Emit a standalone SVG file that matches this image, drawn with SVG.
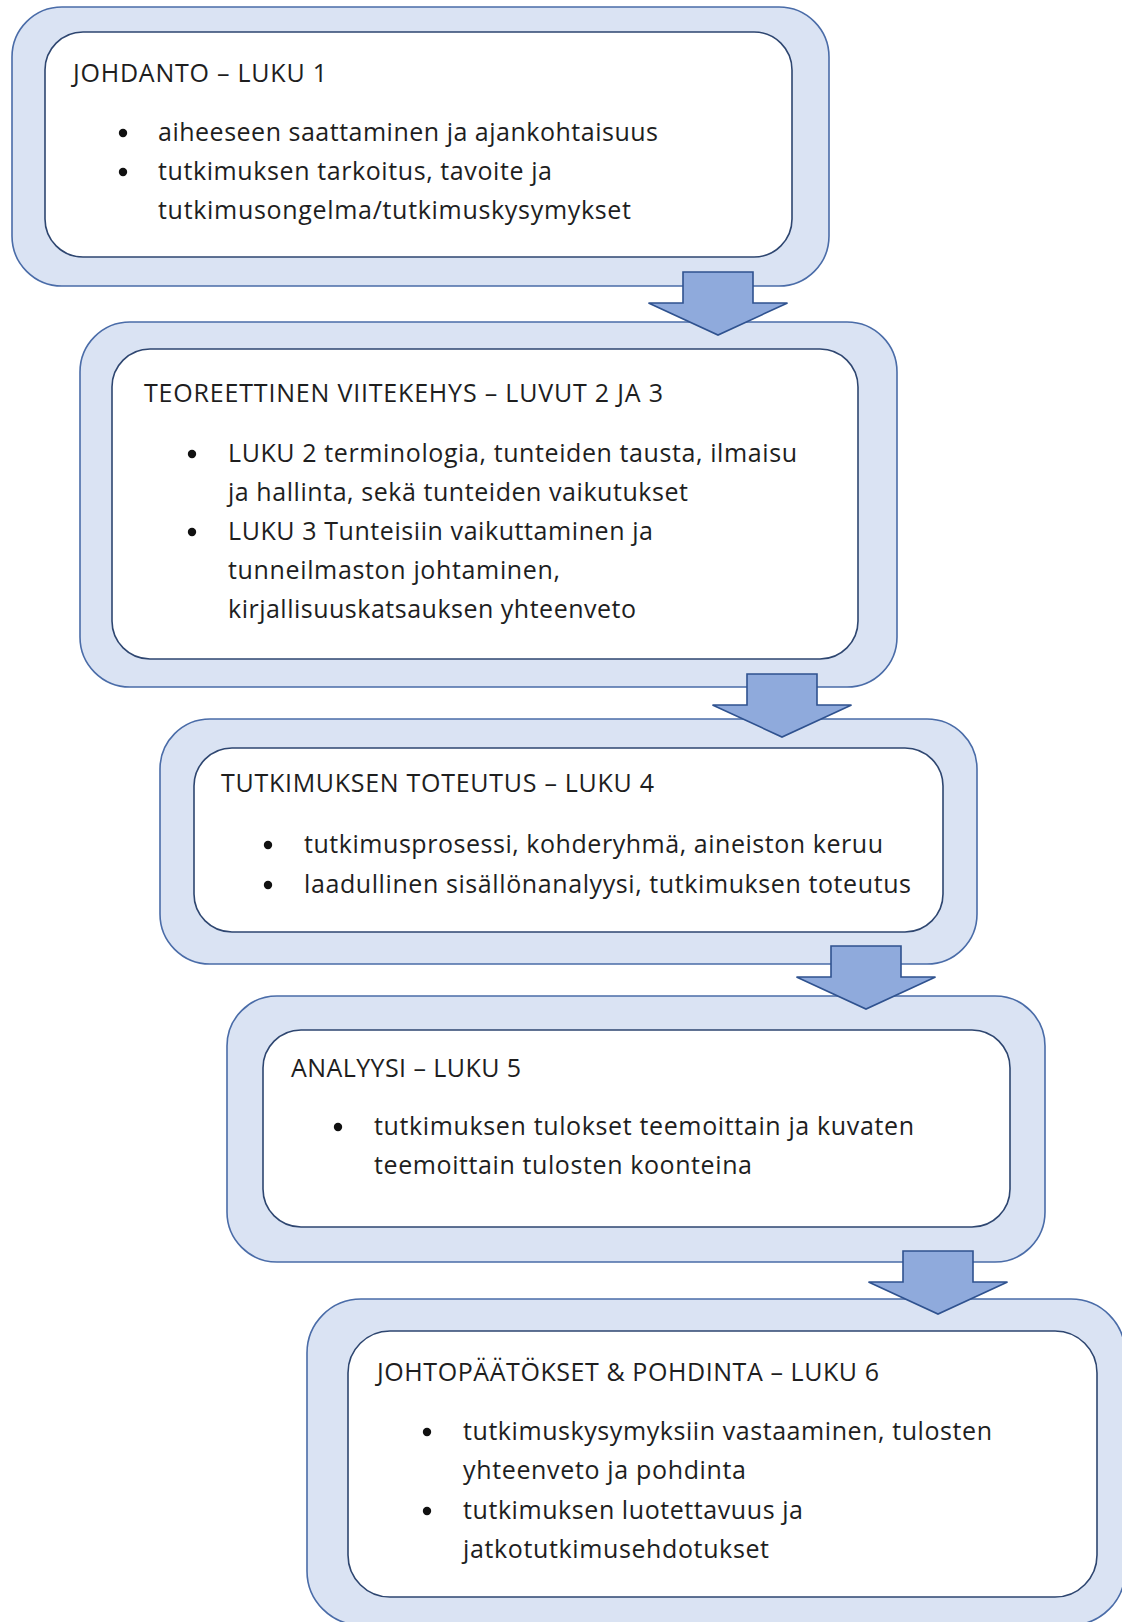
<svg xmlns="http://www.w3.org/2000/svg" width="1122" height="1622" viewBox="0 0 1122 1622">
  <style>
    .frame { fill: #DAE3F3; stroke: #4A6CA8; stroke-width: 1.6; }
    .panel { fill: #FFFFFF; stroke: #2E4670; stroke-width: 1.6; }
    .title, .item { font-family: "Open Sans", "Liberation Sans", Arial, sans-serif; font-size: 25px; fill: #1E1E1E; }
    .dot { fill: #111111; }
    .step { fill: #8FAADC; stroke: #2F528F; stroke-width: 1.6; stroke-linejoin: miter; }
  </style>
  <defs>
    <!-- block arrow pointing down, origin at the tip -->
    <polygon id="downArrow" points="-35,-63 35,-63 35,-32 69.5,-32 0,0 -69.5,-32 -35,-32"/>
  </defs>

  <rect width="1122" height="1622" fill="#FFFFFF"/>

  <!-- Chapter 1 -->
  <g id="johdanto">
    <rect class="frame" x="12" y="7" width="817" height="279" rx="50"/>
    <rect class="panel" x="45" y="32" width="747" height="225" rx="38"/>
    <text class="title" x="73" y="82" textLength="254">JOHDANTO – LUKU 1</text>
    <circle class="dot" cx="123" cy="133" r="4.2"/>
    <text class="item" x="158" y="141" textLength="500">aiheeseen saattaminen ja ajankohtaisuus</text>
    <circle class="dot" cx="123" cy="172" r="4.2"/>
    <text class="item" x="158" y="180" textLength="394">tutkimuksen tarkoitus, tavoite ja</text>
    <text class="item" x="158" y="219" textLength="473">tutkimusongelma/tutkimuskysymykset</text>
  </g>

  <!-- Chapters 2 and 3 -->
  <g id="viitekehys">
    <rect class="frame" x="80" y="322" width="817" height="365" rx="50"/>
    <rect class="panel" x="112" y="349" width="746" height="310" rx="38"/>
    <text class="title" x="144" y="402" textLength="519">TEOREETTINEN VIITEKEHYS – LUVUT 2 JA 3</text>
    <circle class="dot" cx="192" cy="454" r="4.2"/>
    <text class="item" x="228" y="462" textLength="569">LUKU 2 terminologia, tunteiden tausta, ilmaisu</text>
    <text class="item" x="228" y="501" textLength="460">ja hallinta, sekä tunteiden vaikutukset</text>
    <circle class="dot" cx="192" cy="532" r="4.2"/>
    <text class="item" x="228" y="540" textLength="425">LUKU 3 Tunteisiin vaikuttaminen ja</text>
    <text class="item" x="228" y="579" textLength="332">tunneilmaston johtaminen,</text>
    <text class="item" x="228" y="618" textLength="408">kirjallisuuskatsauksen yhteenveto</text>
  </g>

  <!-- Chapter 4 -->
  <g id="toteutus">
    <rect class="frame" x="160" y="719" width="817" height="245" rx="50"/>
    <rect class="panel" x="194" y="748" width="749" height="184" rx="38"/>
    <text class="title" x="221" y="792" textLength="433">TUTKIMUKSEN TOTEUTUS – LUKU 4</text>
    <circle class="dot" cx="268" cy="845" r="4.2"/>
    <text class="item" x="304" y="853" textLength="579">tutkimusprosessi, kohderyhmä, aineiston keruu</text>
    <circle class="dot" cx="268" cy="885" r="4.2"/>
    <text class="item" x="304" y="893" textLength="607">laadullinen sisällönanalyysi, tutkimuksen toteutus</text>
  </g>

  <!-- Chapter 5 -->
  <g id="analyysi">
    <rect class="frame" x="227" y="996" width="818" height="266" rx="50"/>
    <rect class="panel" x="263" y="1030" width="747" height="197" rx="38"/>
    <text class="title" x="291" y="1077" textLength="230">ANALYYSI – LUKU 5</text>
    <circle class="dot" cx="338" cy="1127" r="4.2"/>
    <text class="item" x="374" y="1135" textLength="540">tutkimuksen tulokset teemoittain ja kuvaten</text>
    <text class="item" x="374" y="1174" textLength="378">teemoittain tulosten koonteina</text>
  </g>

  <!-- Chapter 6 -->
  <g id="johtopaatokset">
    <rect class="frame" x="307" y="1299" width="818" height="326" rx="54"/>
    <rect class="panel" x="348" y="1331" width="749" height="266" rx="42"/>
    <text class="title" x="377" y="1381" textLength="502">JOHTOPÄÄTÖKSET &amp; POHDINTA – LUKU 6</text>
    <circle class="dot" cx="427" cy="1432" r="4.2"/>
    <text class="item" x="463" y="1440" textLength="529">tutkimuskysymyksiin vastaaminen, tulosten</text>
    <text class="item" x="463" y="1479" textLength="283">yhteenveto ja pohdinta</text>
    <circle class="dot" cx="427" cy="1511" r="4.2"/>
    <text class="item" x="463" y="1519" textLength="340">tutkimuksen luotettavuus ja</text>
    <text class="item" x="463" y="1558" textLength="306">jatkotutkimusehdotukset</text>
  </g>

  <!-- Step arrows between chapters -->
  <g id="connectors">
    <use href="#downArrow" class="step" x="718" y="335"/>
    <use href="#downArrow" class="step" x="782" y="737"/>
    <use href="#downArrow" class="step" x="866" y="1009"/>
    <use href="#downArrow" class="step" x="938" y="1314"/>
  </g>
</svg>
